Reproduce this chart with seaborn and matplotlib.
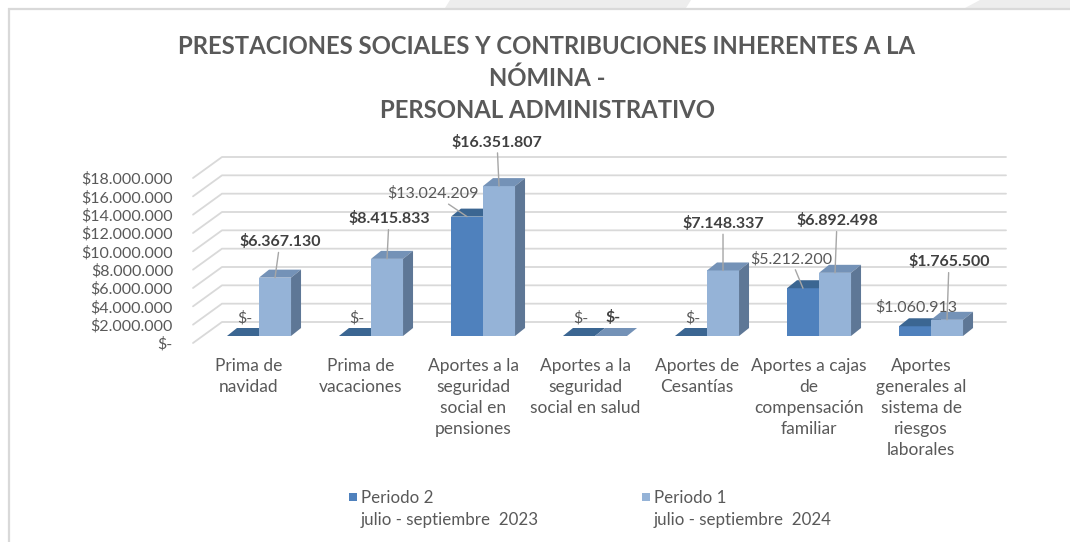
import matplotlib
matplotlib.use("Agg")
import matplotlib.pyplot as plt
from matplotlib.patches import Polygon, Rectangle
import pandas as pd
import seaborn as sns

# datos
categorias = [
    "Prima de\nnavidad",
    "Prima de\nvacaciones",
    "Aportes a la\nseguridad\nsocial en\npensiones",
    "Aportes a la\nseguridad\nsocial en salud",
    "Aportes de\nCesantías",
    "Aportes a cajas\nde\ncompensación\nfamiliar",
    "Aportes\ngenerales al\nsistema de\nriesgos\nlaborales",
]
periodo2 = [0, 0, 13024209, 0, 0, 5212200, 1060913]
periodo1 = [6367130, 8415833, 16351807, 0, 7148337, 6892498, 1765500]
series = ["Periodo 2\njulio - septiembre  2023", "Periodo 1\njulio - septiembre  2024"]
y_ticks = list(range(0, 18_000_001, 2_000_000))

# layout in pixels (dpi 100)
W, H = 1070, 542
FRONT_LEFT, FRONT_RIGHT = 193, 977
FLOOR_Y, TOP_Y = 343, 178
WALL = (29, 21)       # depth of the side wall
BAR_SHIFT = (10, 7)   # bars sit a bit behind the front plane
BAR_DEPTH = (10, 8)

# data label placement: (dx, dy, leader line) in pixels from bar top
offs_p2 = [(2, 18, False), (2, 18, False), (-34, 23, True), (2, 18, False),
           (2, 18, False), (-12, 29, True), (1, 19, False)]
offs_p1 = [(5, 36, True), (2, 40, True), (-2, 44, True), (2, 18, False),
           (0, 47, True), (2, 52, True), (2, 58, True)]

C2 = {"front": "#4F81BD", "top": "#3B6692", "side": "#3A5D87"}
C1 = {"front": "#95B3D7", "top": "#7492B7", "side": "#5E7796"}
TXT = "#595959"
FONT = "Lato"


def money(v):
    if v == 0:
        return "$-"
    return "$" + f"{v:,.0f}".replace(",", ".")


sns.set_theme(style="white")
plt.rcParams["font.family"] = [FONT, "DejaVu Sans"]

fig = plt.figure(figsize=(W / 100, H / 100), dpi=100)

# background / frame in pixel coordinates
bg = fig.add_axes([0, 0, 1, 1], zorder=0)
bg.set_xlim(0, W)
bg.set_ylim(H, 0)
bg.axis("off")
bg.add_patch(Polygon([(445, 8), (450, 0), (691, 0), (686, 8)], closed=True,
                     facecolor="#EDEDED", edgecolor="none"))
bg.add_patch(Polygon([(965, 8), (980, 0), (W, 0), (W, 8)], closed=True,
                     facecolor="#EDEDED", edgecolor="none"))
bg.plot([8, W], [8.5, 8.5], color="#D9D9D9", lw=1.6, solid_capstyle="butt")
bg.plot([8.5, 8.5], [8, H], color="#D9D9D9", lw=1.6, solid_capstyle="butt")

title_kw = dict(ha="center", va="center", fontsize=17.2, fontweight="bold", color=TXT)
bg.text(547, 46, "PRESTACIONES SOCIALES Y CONTRIBUCIONES INHERENTES A LA", **title_kw)
bg.text(547, 78, "NÓMINA -", **title_kw)
bg.text(548, 110, "PERSONAL ADMINISTRATIVO", **title_kw)

# legend
for (lx, label, col) in [(349, series[0], C2["front"]), (642, series[1], C1["front"])]:
    bg.add_patch(Rectangle((lx, 493), 8, 8, facecolor=col, edgecolor="none"))
    bg.text(lx + 12, 490, label, ha="left", va="top", fontsize=12.2, color=TXT,
            linespacing=1.5)

# main axes = front plane of the 3d box
ax = fig.add_axes([FRONT_LEFT / W, (H - FLOOR_Y) / H,
                   (FRONT_RIGHT - FRONT_LEFT) / W, (FLOOR_Y - TOP_Y) / H], zorder=2)
ax.set_facecolor("none")

df = pd.DataFrame({
    "categoria": categorias * 2,
    "valor": periodo2 + periodo1,
    "periodo": [series[0]] * len(categorias) + [series[1]] * len(categorias),
})
sns.barplot(data=df, x="categoria", y="valor", hue="periodo", order=categorias,
            hue_order=series, palette=[C2["front"], C1["front"]], saturation=1,
            width=0.572, errorbar=None, legend=False, linewidth=0, ax=ax)

ax.set_xlim(-0.5, len(categorias) - 0.5)
ax.set_ylim(0, y_ticks[-1])
ux = (FRONT_RIGHT - FRONT_LEFT) / len(categorias)
uy = (FLOOR_Y - TOP_Y) / y_ticks[-1]

# grid on back wall + side wall
wx, wy = WALL[0] / ux, WALL[1] / uy
x_lo, x_hi = -0.5, len(categorias) - 0.5
for v in y_ticks:
    ax.plot([x_lo, x_lo + wx, x_hi + wx], [v, v + wy, v + wy], color="#D9D9D9",
            lw=1.3, clip_on=False, zorder=0.5)

sx, sy = BAR_SHIFT[0] / ux, BAR_SHIFT[1] / uy
dx, dy = BAR_DEPTH[0] / ux, BAR_DEPTH[1] / uy

for k, (cont, vals, offs, cols) in enumerate(zip(ax.containers, [periodo2, periodo1],
                                                 [offs_p2, offs_p1], [C2, C1])):
    z = 2 + k
    for p, v, (ox, oy, leader) in zip(cont.patches, vals, offs):
        x0 = p.get_x() + sx
        w = p.get_width()
        h = p.get_height()
        p.set_x(x0)
        p.set_y(sy)
        p.set_zorder(z)
        p.set_clip_on(False)
        top = sy + h
        ax.add_patch(Polygon([(x0, top), (x0 + w, top), (x0 + w + dx, top + dy),
                              (x0 + dx, top + dy)], closed=True,
                             facecolor=cols["top"], edgecolor="none", zorder=z,
                             clip_on=False))
        if h > 0:
            ax.add_patch(Polygon([(x0 + w, sy), (x0 + w, top), (x0 + w + dx, top + dy),
                                  (x0 + w + dx, sy + dy)], closed=True,
                                 facecolor=cols["side"], edgecolor="none", zorder=z,
                                 clip_on=False))
        arrow = dict(arrowstyle="-", color="#A6A6A6", lw=1, shrinkA=0, shrinkB=0) if leader else None
        ax.annotate(money(v), xy=(x0 + w / 2, top), xytext=(ox, oy),
                    textcoords="offset pixels", ha="center", va="center",
                    fontsize=11.5, fontweight="bold" if k == 1 else "normal",
                    color="#404040" if k == 1 else TXT, arrowprops=arrow,
                    zorder=6, annotation_clip=False)

ax.set_yticks(y_ticks, labels=[money(v) for v in y_ticks])
ax.set_xticks(range(len(categorias)), labels=categorias)
ax.tick_params(axis="y", length=0, pad=14.4, labelsize=11.5, labelcolor=TXT)
ax.tick_params(axis="x", length=0, pad=11, labelsize=12.5, labelcolor=TXT)
for lab in ax.get_xticklabels():
    lab.set_linespacing(1.37)
ax.set_xlabel("")
ax.set_ylabel("")
sns.despine(ax=ax, left=True, bottom=True)
ax.grid(False)

fig.savefig("out.png", dpi=100)
